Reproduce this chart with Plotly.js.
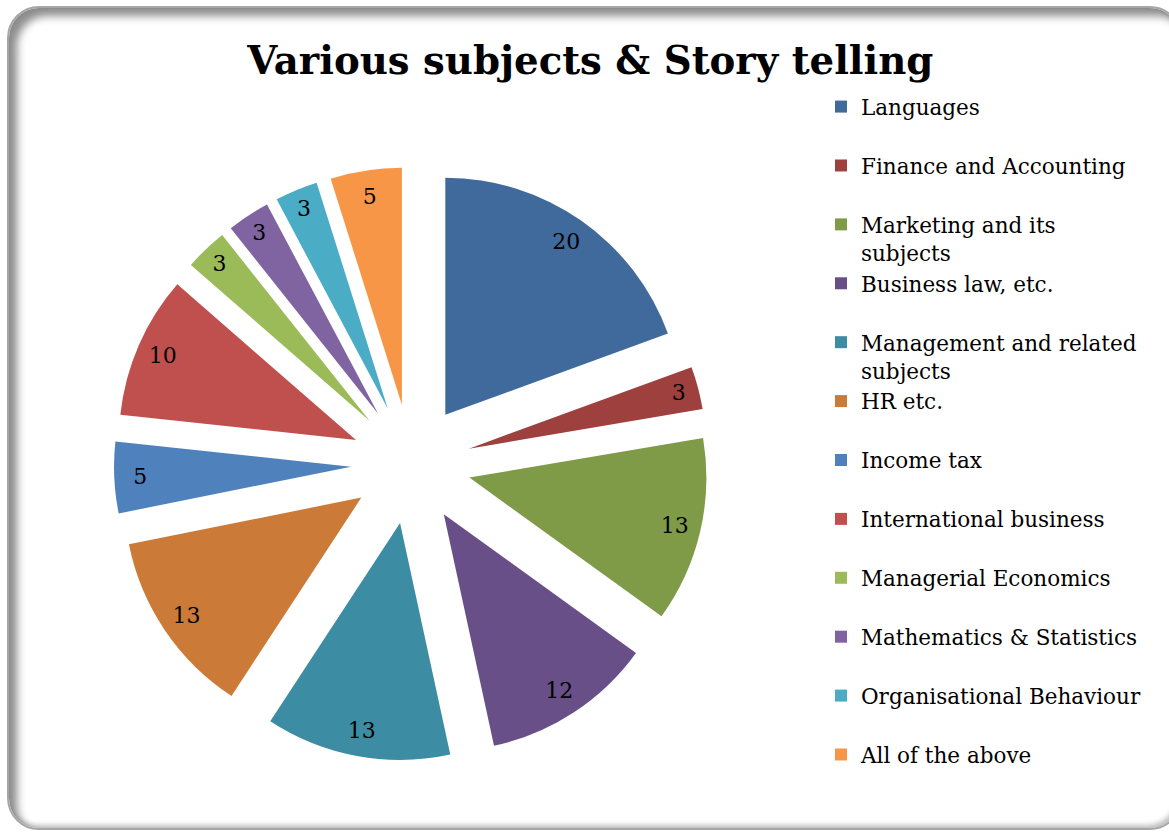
<!DOCTYPE html>
<html>
<head>
<meta charset="utf-8">
<script src="https://cdn.plot.ly/plotly-3.0.1.min.js"></script>
<style>
  html, body { margin: 0; padding: 0; background: #ffffff; }
  #wrap { position: relative; width: 1169px; height: 836px; overflow: hidden; background: #ffffff; }
  #frame {
    position: absolute; left: 7px; top: 6px; width: 1175px; height: 824px;
    border: 2px solid #a6a6a6; border-radius: 32px;
    box-shadow: inset 8px 8px 9px rgba(0,0,0,0.45), inset -3px -3px 5px rgba(0,0,0,0.25);
    box-sizing: border-box;
  }
  #chart { position: absolute; left: 0; top: 0; width: 1169px; height: 836px; }
</style>
</head>
<body>
<div id="wrap">
  <div id="frame"></div>
  <div id="chart"></div>
</div>
<script>
const categories = [
  "Languages",
  "Finance and Accounting",
  "Marketing and its subjects",
  "Business law, etc.",
  "Management and related subjects",
  "HR etc.",
  "Income tax",
  "International business",
  "Managerial Economics",
  "Mathematics & Statistics",
  "Organisational Behaviour",
  "All of the above"
];
const values = [20, 3, 13, 12, 13, 13, 5, 10, 3, 3, 3, 5];
const legendLabels = [
  "Languages<br>&nbsp;",
  "Finance and Accounting<br>&nbsp;",
  "Marketing and its<br>subjects",
  "Business law, etc.<br>&nbsp;",
  "Management and related<br>subjects",
  "HR etc.<br>&nbsp;",
  "Income tax<br>&nbsp;",
  "International business<br>&nbsp;",
  "Managerial Economics<br>&nbsp;",
  "Mathematics & Statistics<br>&nbsp;",
  "Organisational Behaviour<br>&nbsp;",
  "All of the above<br>&nbsp;"
];
const colors = [
  "#416A9C", "#9D403E", "#7F9B48", "#694F88", "#3C8CA4", "#CB7B37",
  "#4F81BD", "#C0504D", "#9BBB59", "#8064A2", "#4BACC6", "#F79646"
];
const pulls = values.map(() => 0.253);
const pieDomain = { x: [0.0975, 0.6056], y: [0.0897, 0.8002] };

const slices = {
  type: "pie",
  labels: legendLabels,
  values: values,
  textinfo: "none",
  sort: false,
  direction: "clockwise",
  rotation: 0,
  pull: pulls,
  marker: { colors: colors, line: { width: 0 } },
  domain: pieDomain,
  hoverinfo: "label+value"
};

const valueLabels = {
  type: "pie",
  labels: legendLabels,
  values: values,
  text: values.map(String),
  textinfo: "text",
  textposition: "inside",
  insidetextorientation: "horizontal",
  hole: 0.78,
  sort: false,
  direction: "clockwise",
  rotation: 0,
  pull: pulls,
  showlegend: false,
  marker: { colors: values.map(() => "rgba(0,0,0,0)"), line: { width: 0 } },
  textfont: { family: "DejaVu Serif", size: 22, color: "#000000" },
  domain: pieDomain,
  hoverinfo: "skip"
};

const layout = {
  width: 1169,
  height: 836,
  margin: { l: 0, r: 0, t: 0, b: 0 },
  paper_bgcolor: "rgba(0,0,0,0)",
  plot_bgcolor: "rgba(0,0,0,0)",
  title: {
    text: "<b>Various subjects & Story telling</b>",
    font: { family: "DejaVu Serif", size: 38.7, color: "#000000" },
    x: 0.505, xanchor: "center",
    y: 0.928, yanchor: "middle"
  },
  showlegend: true,
  legend: {
    x: 0.7023, xanchor: "left",
    y: 0.897, yanchor: "top",
    valign: "top",
    font: { family: "DejaVu Serif", size: 21.5, color: "#000000" },
    bgcolor: "rgba(0,0,0,0)",
    traceorder: "normal"
  }
};

Plotly.newPlot("chart", [slices, valueLabels], layout, { displayModeBar: false, staticPlot: true });
</script>
</body>
</html>
